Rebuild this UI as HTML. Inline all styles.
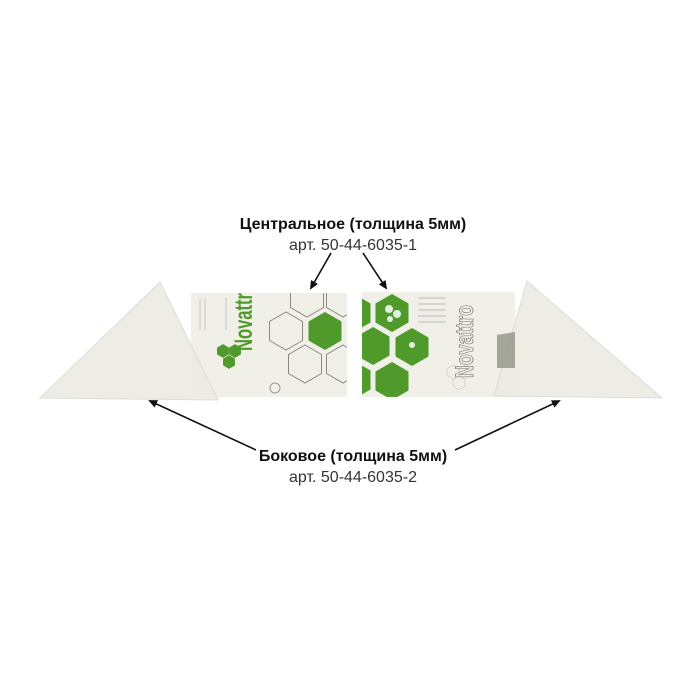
<!DOCTYPE html>
<html><head><meta charset="utf-8"><style>
html,body{margin:0;padding:0;background:#fff;width:700px;height:700px;overflow:hidden}
svg{display:block}
text{font-family:"Liberation Sans",sans-serif}
</style></head><body>
<svg width="700" height="700" viewBox="0 0 700 700" xmlns="http://www.w3.org/2000/svg">
<defs>
<marker id="ah" markerWidth="9" markerHeight="8" refX="7" refY="4" orient="auto" markerUnits="userSpaceOnUse">
<path d="M0,0 L9,4 L0,8 z" fill="#111"/></marker>
<polygon id="hx" points="0,-19 16.5,-9.5 16.5,9.5 0,19 -16.5,9.5 -16.5,-9.5"/>
<clipPath id="cl"><rect x="191" y="293" width="156" height="104"/></clipPath>
<clipPath id="cr"><rect x="362" y="292" width="153" height="105"/></clipPath>
</defs>
<text x="353" y="229" text-anchor="middle" font-size="16" font-weight="bold" fill="#111">Центральное (толщина 5мм)</text>
<text x="353" y="250" text-anchor="middle" font-size="16" fill="#333">арт. 50-44-6035-1</text>
<text x="353" y="461" text-anchor="middle" font-size="16" font-weight="bold" fill="#111">Боковое (толщина 5мм)</text>
<text x="353" y="482" text-anchor="middle" font-size="16" fill="#333">арт. 50-44-6035-2</text>

<!-- left panel -->
<rect x="191" y="293" width="156" height="104" fill="#f0efe8"/>
<g clip-path="url(#cl)">
<g fill="#4f9a2a">
<use href="#hx" transform="translate(223,351) scale(.36)"/><use href="#hx" transform="translate(235,351) scale(.36)"/><use href="#hx" transform="translate(229,362) scale(.36)"/></g>
<text transform="translate(252,351) rotate(-90)" font-size="25" font-weight="bold" fill="#4f9a2a" textLength="58" lengthAdjust="spacingAndGlyphs">Novattr</text>
<g fill="none" stroke="#8a8a80" stroke-width="1">
<use href="#hx" transform="translate(286,331)"/><use href="#hx" transform="translate(305,364)"/><use href="#hx" transform="translate(307,298)"/><use href="#hx" transform="translate(343,364)"/><use href="#hx" transform="translate(343,298)"/></g>
<use href="#hx" transform="translate(325,331)" fill="#4f9a2a"/>
<circle cx="275" cy="388" r="5" fill="none" stroke="#999"/>
<g stroke="#c8c8c0"><line x1="200" y1="298" x2="200" y2="330"/><line x1="205" y1="298" x2="205" y2="330"/><line x1="226" y1="298" x2="226" y2="330"/></g>
</g>
<!-- left triangle -->
<polygon points="160,282 40,398 218,400" fill="#ecebe4" stroke="#dcdbd3" opacity=".93"/>
<!-- right panel -->
<rect x="362" y="292" width="153" height="105" fill="#f0efe8"/>
<g clip-path="url(#cr)">
<g fill="#4f9a2a">
<use href="#hx" transform="translate(392,313)"/><use href="#hx" transform="translate(373,346)"/><use href="#hx" transform="translate(412,347)"/><use href="#hx" transform="translate(392,381)"/><use href="#hx" transform="translate(354,313)"/><use href="#hx" transform="translate(354,380)"/></g>
<g fill="#fff" opacity=".85"><circle cx="389" cy="309" r="4"/><circle cx="397" cy="314" r="4"/><circle cx="390" cy="319" r="3"/><circle cx="412" cy="345" r="3"/></g>
<g stroke="#bbb" stroke-width="1"><line x1="418" y1="298" x2="446" y2="298"/><line x1="418" y1="304" x2="446" y2="304"/><line x1="418" y1="310" x2="446" y2="310"/><line x1="418" y1="316" x2="446" y2="316"/><line x1="418" y1="322" x2="446" y2="322"/></g>
<text transform="translate(473,378) rotate(-90)" font-size="25" font-weight="bold" fill="none" stroke="#8a8a80" stroke-width=".9" textLength="73" lengthAdjust="spacingAndGlyphs">Novattro</text>
<g fill="none" stroke="#aaa"><use href="#hx" transform="translate(453,372) scale(.36)"/><use href="#hx" transform="translate(465,372) scale(.36)"/><use href="#hx" transform="translate(459,383) scale(.36)"/></g>
</g>
<!-- right triangle -->
<polygon points="527,281 494,396 662,398" fill="#ecebe4" stroke="#dcdbd3" opacity=".93"/>
<polygon points="497,335 515,332 515,368 497,368" fill="#8f9585" opacity=".8"/>
<!-- arrows -->
<g stroke="#111" stroke-width="1.6" marker-end="url(#ah)">
<line x1="331" y1="253" x2="311" y2="288"/>
<line x1="363" y1="253" x2="386" y2="288"/>
<line x1="256" y1="450" x2="150" y2="401"/>
<line x1="455" y1="450" x2="559" y2="401"/>
</g>
</svg>
</body></html>
